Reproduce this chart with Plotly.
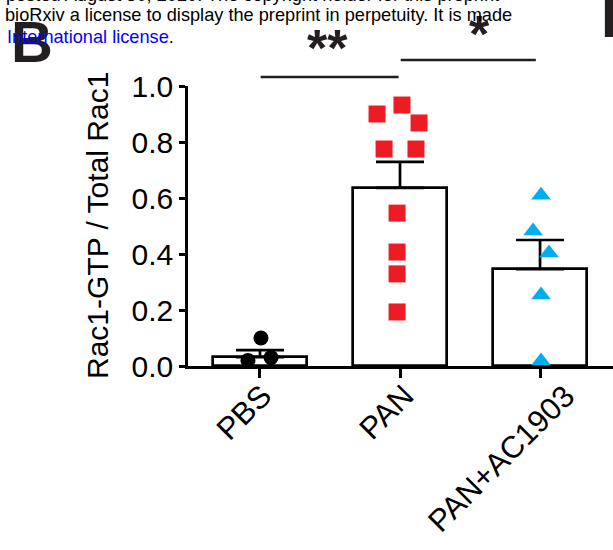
import plotly.graph_objects as go

# ---- data ----
groups = ["PBS", "PAN", "PAN+AC1903"]
means = [0.032, 0.636, 0.346]
sem = [0.025, 0.093, 0.104]

pbs_vals = [0.02, 0.10, 0.03]
pan_vals = [0.90, 0.932, 0.868, 0.775, 0.775, 0.546, 0.407, 0.329, 0.193]
ac_vals = [0.61, 0.482, 0.404, 0.254, 0.018]

# horizontal scatter of the dots within each group (category units)
pbs_jit = [-0.086, 0.007, 0.079]
pan_jit = [-0.164, 0.014, 0.136, -0.114, 0.114, -0.021, -0.021, -0.021, -0.021]
ac_jit = [0.007, -0.05, 0.064, 0.007, 0.007]

comparisons = [(0, 1, "**"), (1, 2, "*")]

# ---- layout geometry ----
W, H = 613, 550
L, R, T, B = 188, 0, 86, 184
XMIN, XMAX = -0.514, 2.521
FONT = "Liberation Sans, Arial, sans-serif"


def px_x(p):
    return (p - L) / (W - L - R)


def px_y(p):
    return (H - B - p) / (H - T - B)


def cat_to_paper(c):
    return (c - XMIN) / (XMAX - XMIN)


fig = go.Figure()

fig.add_trace(go.Bar(
    x=[0, 1, 2], y=means, width=0.67,
    marker=dict(color="white", line=dict(color="black", width=2.7)),
    error_y=dict(type="data", array=sem, arrayminus=[0, 0, 0], symmetric=False,
                 width=24, thickness=2.7, color="black"),
    showlegend=False,
))

series = [
    (0, pbs_vals, pbs_jit, "circle", "black", 15),
    (1, pan_vals, pan_jit, "square", "#ED1C24", 17),
    (2, ac_vals, ac_jit, "triangle-up", "#00AEEF", 17),
]
for idx, vals, jit, sym, col, size in series:
    fig.add_trace(go.Scatter(
        x=[idx + j for j in jit], y=vals, mode="markers", cliponaxis=False,
        marker=dict(symbol=sym, color=col, size=size, line=dict(width=0)),
        showlegend=False,
    ))

shapes = []
annotations = []
sig_y = [px_y(77), px_y(60)]
star_y = [px_y(48), px_y(34)]
star_shift = [-2, 9]
for k, (a, b, s) in enumerate(comparisons):
    x0 = a + 0.005
    x1 = b - 0.03 if k == 1 else b - 0.01
    shapes.append(dict(type="line", xref="paper", yref="paper",
                       x0=cat_to_paper(x0), x1=cat_to_paper(x1),
                       y0=sig_y[k], y1=sig_y[k],
                       line=dict(color="#231f20", width=2.5)))
    annotations.append(dict(text=s, xref="x", yref="paper", x=(a + b) / 2, xshift=star_shift[k],
                            y=star_y[k], xanchor="center", yanchor="middle", showarrow=False,
                            font=dict(family=FONT, size=52, color="#231f20", weight="bold")))

# rotated category labels (centre of each label relative to its tick)
label_dx = [-16, -14, -39]
label_cy = [412.5, 412.5, 458]
for i, g in enumerate(groups):
    annotations.append(dict(text=g, xref="x", yref="paper", x=i, xshift=label_dx[i],
                            y=px_y(label_cy[i]), xanchor="center", yanchor="middle",
                            textangle=-45, showarrow=False,
                            font=dict(family=FONT, size=31, color="black")))

# y axis title
annotations.append(dict(text="Rac1-GTP / Total Rac1", xref="paper", yref="paper",
                        x=px_x(97), y=px_y(226), xanchor="center", yanchor="middle",
                        textangle=-90, showarrow=False,
                        font=dict(family=FONT, size=30, color="black")))

# panel letters and header text (cropped page context)
annotations.append(dict(text="B", xref="paper", yref="paper", x=px_x(9), y=px_y(41.5),
                        xanchor="left", yanchor="middle", showarrow=False,
                        font=dict(family=FONT, size=58, color="#231f20", weight="bold")))
annotations.append(dict(text="F", xref="paper", yref="paper", x=px_x(599), y=px_y(16),
                        xanchor="left", yanchor="middle", showarrow=False,
                        font=dict(family=FONT, size=58, color="#231f20", weight="bold")))
annotations.append(dict(text="posted August 30, 2020. The copyright holder for this preprint",
                        xref="paper", yref="paper", x=px_x(4), y=px_y(-5),
                        xanchor="left", yanchor="middle", showarrow=False,
                        font=dict(family=FONT, size=18.2, color="black")))
annotations.append(dict(text="bioRxiv a license to display the preprint in perpetuity. It is made",
                        xref="paper", yref="paper", x=px_x(3), y=px_y(14.8),
                        xanchor="left", yanchor="middle", showarrow=False,
                        font=dict(family=FONT, size=18.2, color="black")))
annotations.append(dict(text="<span style='color:#0000FF'>International license</span>.",
                        xref="paper", yref="paper", x=px_x(5), y=px_y(36.8),
                        xanchor="left", yanchor="middle", showarrow=False,
                        font=dict(family=FONT, size=18.2, color="black")))

fig.update_layout(
    width=W, height=H,
    margin=dict(l=L, r=R, t=T, b=B, pad=0),
    paper_bgcolor="white", plot_bgcolor="white",
    font=dict(family=FONT, size=30, color="black"),
    bargap=0,
    shapes=shapes, annotations=annotations,
    xaxis=dict(range=[XMIN, XMAX], tickmode="array", tickvals=[0, 1, 2], ticktext=groups,
               showticklabels=False,
               ticks="outside", ticklen=9, tickwidth=2.5, tickcolor="black",
               showline=True, linewidth=2.5, linecolor="black", showgrid=False, zeroline=False),
    yaxis=dict(range=[0, 1.0], tickmode="array", tickvals=[0, 0.2, 0.4, 0.6, 0.8, 1.0],
               tickformat=".1f", ticks="outside", ticklen=6, tickwidth=2.5, tickcolor="black",
               showline=True, linewidth=2.5, linecolor="black", showgrid=False, zeroline=False,
               tickfont=dict(family=FONT, size=30, color="black")),
)

fig.write_html("out.html", config={"displayModeBar": False},
               post_script="document.body.style.margin='0';document.body.style.overflow='hidden';")
